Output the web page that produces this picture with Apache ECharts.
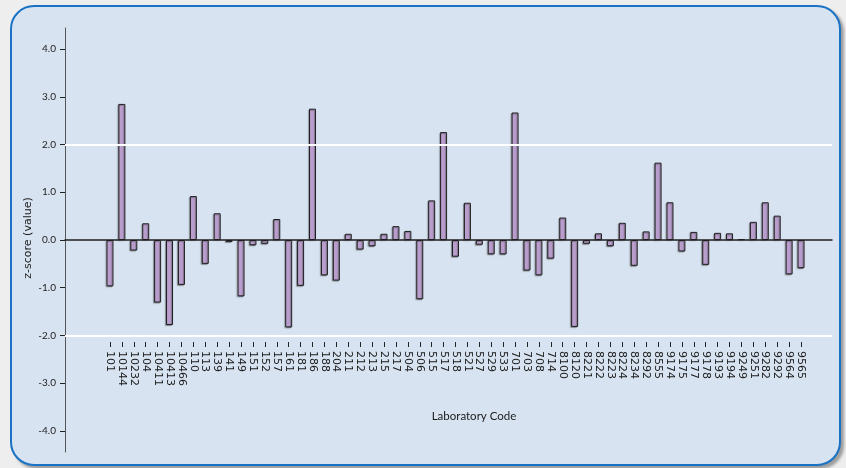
<!DOCTYPE html>
<html>
<head>
<meta charset="utf-8">
<script src="https://cdn.jsdelivr.net/npm/echarts@6/dist/echarts.min.js"></script>
<style>
  html, body { margin: 0; padding: 0; background: #eeeeee; }
  #panel {
    position: absolute; left: 10px; top: 5px; width: 827px; height: 457px;
    background: #d7e3f1; border: 2px solid #1a72c4; border-radius: 24px;
    box-shadow: 3px 3px 3px rgba(0,0,0,0.35);
  }
  #chart { position: absolute; left: 0; top: 0; width: 846px; height: 468px; }
</style>
</head>
<body>
<div id="panel"></div>
<div id="chart"></div>
<script>
// Laboratory codes along the category axis
const labCodes = [
  '101', '10144', '10232', '104', '10411', '10413', '10466', '110', '113', '139',
  '141', '149', '151', '152', '157', '161', '181', '186', '188', '204',
  '211', '212', '213', '215', '217', '504', '506', '515', '517', '518',
  '521', '527', '529', '533', '701', '703', '708', '714', '8100', '8120',
  '8221', '8222', '8223', '8224', '8234', '8292', '8555', '9174', '9175', '9177',
  '9178', '9193', '9194', '9249', '9251', '9282', '9292', '9564', '9565'
];

// z-score reported for each laboratory
const zScores = [
  -0.97, 2.85, -0.22, 0.35, -1.31, -1.78, -0.94, 0.92, -0.50, 0.56,
  -0.04, -1.18, -0.11, -0.08, 0.44, -1.83, -0.96, 2.75, -0.74, -0.85,
  0.13, -0.20, -0.13, 0.13, 0.29, 0.19, -1.24, 0.83, 2.26, -0.35,
  0.78, -0.10, -0.30, -0.30, 2.67, -0.64, -0.74, -0.39, 0.47, -1.82,
  -0.08, 0.14, -0.13, 0.36, -0.54, 0.18, 1.62, 0.79, -0.24, 0.17,
  -0.52, 0.15, 0.14, 0.02, 0.38, 0.79, 0.51, -0.72, -0.59
];

// Labelled ticks on the value axis and the reference lines drawn across the plot
const yTicks = [-4, -3, -2, -1, 0, 1, 2, 3, 4];
const limitLines = [2, -2];

const yMin = -4.44, yMax = 4.44;

const chart = echarts.init(document.getElementById('chart'), null, { renderer: 'canvas' });

chart.setOption({
  backgroundColor: 'transparent',
  animation: false,
  grid: [
    { left: 65, right: 14, top: 28, bottom: 16 },
    { left: 104, right: 39, top: 28, bottom: 16 }
  ],
  xAxis: [
    {
      type: 'value', gridIndex: 0, min: 0, max: 1,
      axisLine: { show: true, onZero: true, lineStyle: { color: '#1e1e1e', width: 1.5 } },
      axisTick: { show: false }, axisLabel: { show: false }, splitLine: { show: false }
    },
    {
      type: 'category', gridIndex: 1, data: labCodes, position: 'bottom', offset: -110,
      axisLine: { show: false, onZero: false },
      axisTick: { show: true, alignWithLabel: true, length: 5, lineStyle: { color: '#222', width: 1 } },
      axisLabel: {
        rotate: -90, interval: 0, margin: 9,
        fontFamily: 'DejaVu Sans', fontSize: 11, color: '#1a1a1a'
      },
      splitLine: { show: false }
    }
  ],
  yAxis: [
    {
      type: 'value', gridIndex: 0, min: yMin, max: yMax,
      axisLine: { show: true, lineStyle: { color: '#555', width: 1 } },
      axisTick: { show: true, length: 5, customValues: yTicks, lineStyle: { color: '#222' } },
      axisLabel: {
        customValues: yTicks, margin: 9,
        formatter: v => v.toFixed(1),
        fontFamily: 'Lato', fontSize: 10, color: '#222'
      },
      splitLine: { show: false }
    },
    {
      type: 'value', gridIndex: 1, min: yMin, max: yMax, show: false
    }
  ],
  series: [
    {
      type: 'line', xAxisIndex: 0, yAxisIndex: 0, data: [], z: 1,
      markLine: {
        silent: true, symbol: 'none', label: { show: false },
        lineStyle: { color: '#ffffff', width: 2, type: 'solid' },
        data: limitLines.map(v => ({ yAxis: v }))
      }
    },
    {
      type: 'bar', xAxisIndex: 1, yAxisIndex: 1, data: zScores, z: 3,
      barWidth: 7,
      itemStyle: {
        color: '#b99dcd', borderColor: '#1e1e1e', borderWidth: 1,
        shadowColor: 'rgba(60,60,60,0.45)', shadowOffsetX: -1, shadowOffsetY: 1, shadowBlur: 1
      }
    }
  ],
  graphic: [
    {
      type: 'text', x: 28, y: 238, rotation: Math.PI / 2,
      style: {
        text: 'z-score (value)', fontFamily: 'DejaVu Sans', fontSize: 11,
        fill: '#1a1a1a', align: 'center', verticalAlign: 'middle'
      }
    },
    {
      type: 'text', x: 474, y: 416,
      style: {
        text: 'Laboratory Code', fontFamily: 'Lato', fontSize: 11.5,
        fill: '#1a1a1a', align: 'center', verticalAlign: 'middle'
      }
    }
  ]
});
</script>
</body>
</html>
